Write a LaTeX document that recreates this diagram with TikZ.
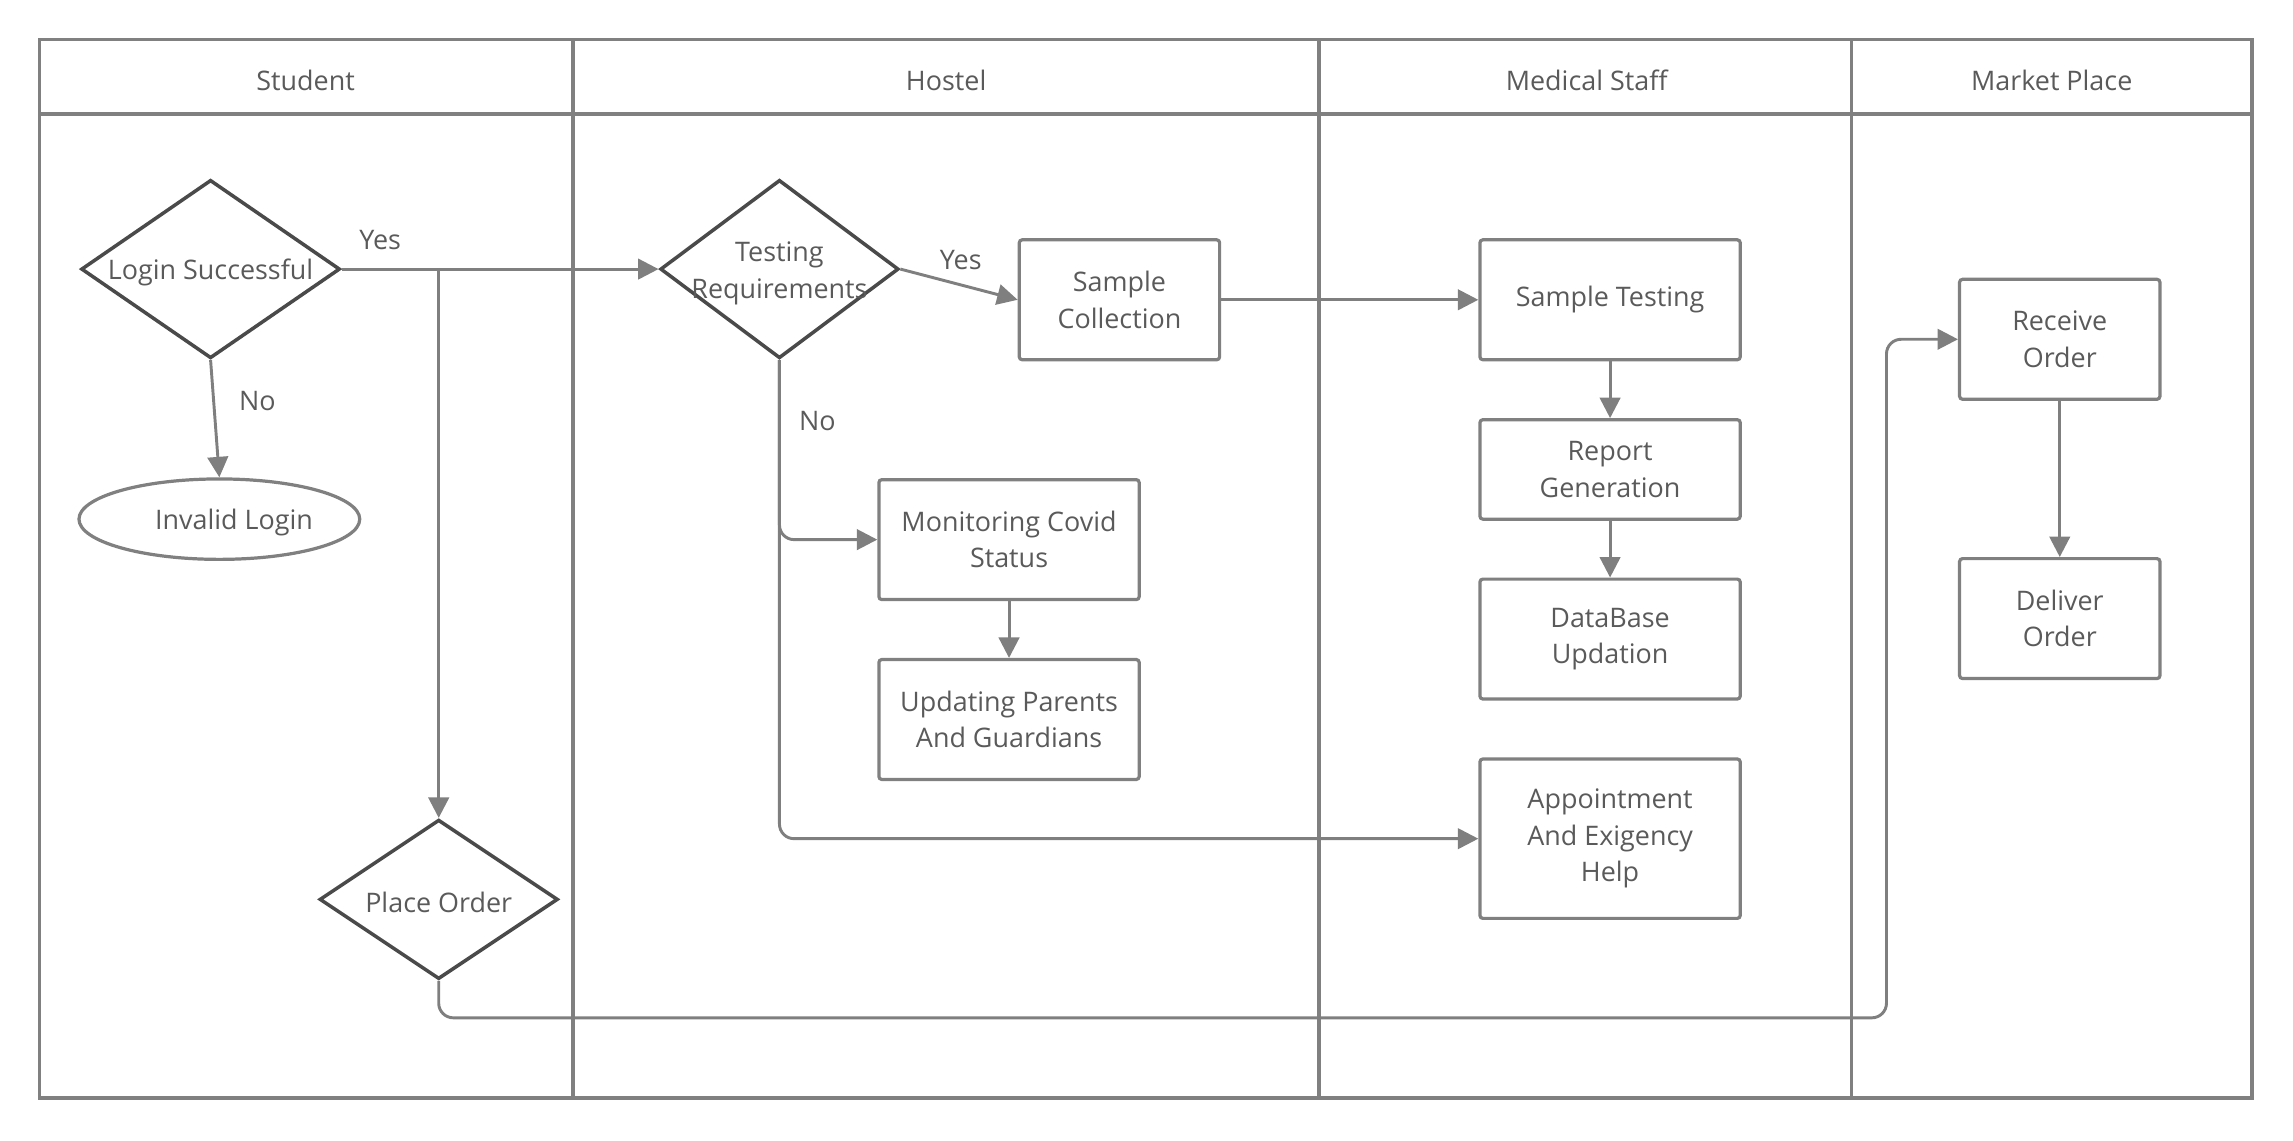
\documentclass[tikz,border=0pt]{standalone}
\usepackage{fontspec}
\setmainfont{Open Sans}
\usetikzlibrary{shapes.geometric, arrows.meta}
\definecolor{lanegray}{HTML}{808080}
\definecolor{edgegray}{HTML}{7F7F7F}
\definecolor{darkline}{HTML}{4A4A4A}
\definecolor{textgray}{HTML}{5A5A5A}
\tikzstyle{process} = [rectangle, rounded corners=2, minimum width=178, minimum height=82, align=center, draw=lanegray, line width=2.2, text=textgray]
\tikzstyle{decision} = [diamond, inner sep=0, minimum width=177, minimum height=122, draw=darkline, line width=2.4]
\tikzstyle{lanehead} = [text=textgray]
\tikzstyle{arrow} = [line width=2, draw=edgegray, -{Triangle[length=14,width=14]}]

\begin{document}
\begin{tikzpicture}[x=1pt, y=-1pt, font=\fontsize{18.4}{25}\selectfont, every label/.style={text=textgray, align=center}]
\useasboundingbox (0,0) rectangle (1568,780);

% Lanes
\draw[lanegray, line width=2.5] (27,27) rectangle (1540,751);
\draw[lanegray, line width=2.5] (27,78) -- (1540,78);
\foreach \x in {392, 902, 1266}
  \draw[lanegray, line width=2.5] (\x,27) -- (\x,751);
\node (student) [lanehead] at (209,55) {Student};
\node (hostel) [lanehead] at (647,55) {Hostel};
\node (medical) [lanehead] at (1085,55) {Medical Staff};
\node (market) [lanehead] at (1403,55) {Market Place};

% Nodes
\node (login) [decision, label={[yshift=-2]center:Login Successful}] at (144,184) {};
\node (invalid) [ellipse, minimum width=192, minimum height=55, draw=lanegray, line width=2.2, label={[xshift=10,yshift=-2]center:Invalid Login}] at (150,355) {};
\node (order) [decision, minimum width=163, minimum height=109, label={[yshift=-2]center:Place Order}] at (300,615) {};

\node (test) [decision, minimum width=163, label={[yshift=-3]center:Testing\\Requirements}] at (533,184) {};
\node (collect) [process, minimum width=137] at (765.5,205) {Sample\\Collection};
\node (monitor) [process] at (690,369) {Monitoring Covid\\Status};
\node (update) [process] at (690,492) {Updating Parents\\And Guardians};

\node (stest) [process] at (1101,205) {Sample Testing};
\node (report) [process, minimum height=68] at (1101,321) {Report\\Generation};
\node (dbase) [process] at (1101,437) {DataBase\\Updation};
\node (appoint) [process, minimum height=109] at (1101,573.5) {Appointment\\And Exigency\\Help};

\node (receive) [process, minimum width=137] at (1408.5,232) {Receive\\Order};
\node (deliver) [process, minimum width=137] at (1408.5,423) {Deliver\\Order};

\coordinate (split) at (order.north |- login.east);
\coordinate (bend) at (1290,696);

% Arrows
\draw [arrow] (login.east) -- (test.west);
\node (yes1) [text=textgray] at (260,164) {Yes};
\draw [arrow] (login.south) -- (invalid.north);
\node (no1) [text=textgray] at (176,274) {No};
\draw [arrow] (split) -- (order.north);

\draw [arrow] (test.east) -- (collect.west);
\node (yes2) [text=textgray] at (657,178) {Yes};
\draw [arrow, rounded corners=10] (test.south) |- (monitor.west);
\draw [arrow, rounded corners=10] (test.south) |- (appoint.west);
\node (no2) [text=textgray] at (559,288) {No};
\draw [arrow] (monitor.south) -- (update.north);

\draw [arrow] (collect.east) -- (stest.west);
\draw [arrow] (stest.south) -- (report.north);
\draw [arrow] (report.south) -- (dbase.north);

\draw [arrow, rounded corners=10] (order.south) |- (bend) |- (receive.west);
\draw [arrow] (receive.south) -- (deliver.north);

\end{tikzpicture}
\end{document}
